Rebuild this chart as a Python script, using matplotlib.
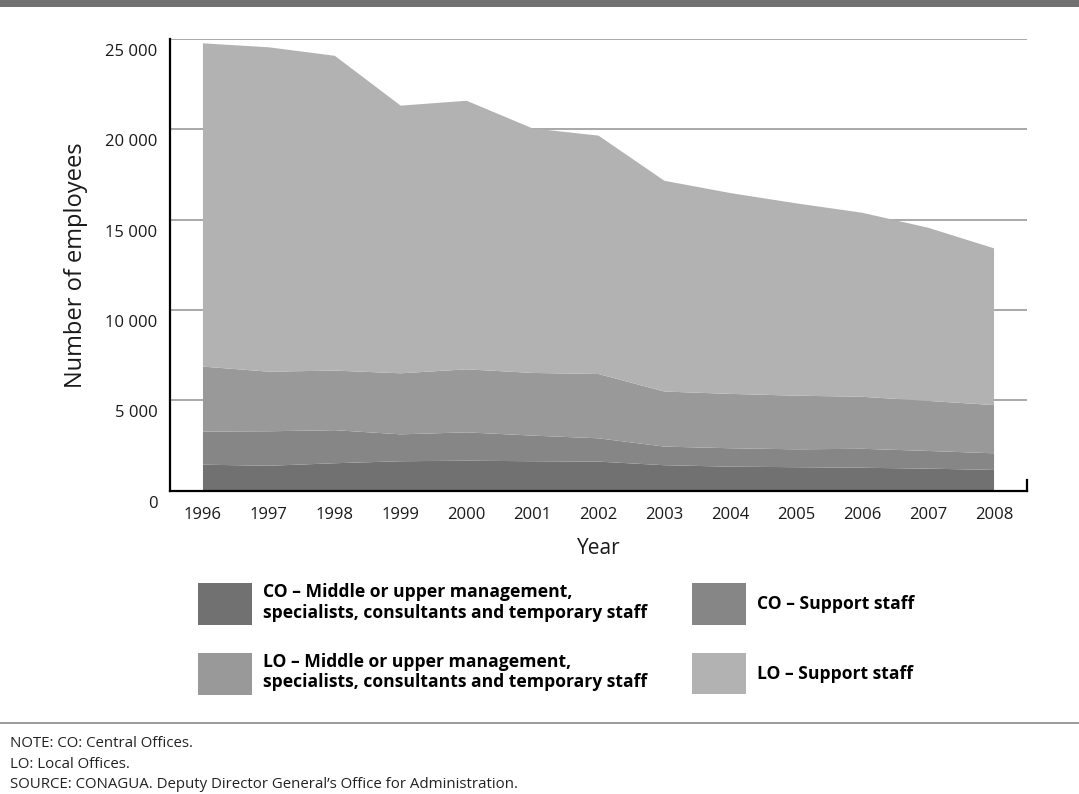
import matplotlib
matplotlib.use("Agg")
import matplotlib.pyplot as plt
import matplotlib.transforms as mtransforms
from matplotlib.lines import Line2D
from matplotlib.patches import Rectangle

plt.rcParams['font.family'] = ['Open Sans', 'DejaVu Sans']

years = [1996, 1997, 1998, 1999, 2000, 2001, 2002, 2003, 2004, 2005, 2006, 2007, 2008]
co_mid = [1430, 1370, 1510, 1620, 1650, 1620, 1600, 1400, 1320, 1290, 1260, 1210, 1140]
co_sup = [1830, 1910, 1830, 1490, 1570, 1420, 1290, 1030, 1020, 990, 1050, 980, 920]
lo_mid = [3600, 3300, 3300, 3380, 3490, 3470, 3560, 3050, 3010, 2970, 2880, 2770, 2670]
lo_sup = [17900, 17960, 17430, 14820, 14870, 13540, 13200, 11670, 11120, 10650, 10190, 9590, 8680]

labels = ["CO \u2013 Middle or upper management,\nspecialists, consultants and temporary staff",
          "CO \u2013 Support staff",
          "LO \u2013 Middle or upper management,\nspecialists, consultants and temporary staff",
          "LO \u2013 Support staff"]
colors = ["#717171", "#868686", "#999999", "#b2b2b2"]

yticks = [0, 5000, 10000, 15000, 20000, 25000]
ytick_labels = ["0", "5 000", "10 000", "15 000", "20 000", "25 000"]

fig = plt.figure(figsize=(10.79, 7.94), dpi=100)
ax = fig.add_axes([170/1079, 1 - 490.5/794, 857/1079, 451.5/794])

polys = ax.stackplot(years, co_mid, co_sup, lo_mid, lo_sup, colors=colors,
                     labels=labels, linewidth=0, zorder=2)

ax.set_xlim(1995.5, 2008.5)
ax.set_ylim(0, 25000)
ax.set_xticks(years)
ax.set_xticklabels([str(y) for y in years])
ax.set_yticks(yticks)
ax.set_yticklabels(ytick_labels)
ax.tick_params(axis='both', length=0, labelsize=12, colors='#1a1a1a')
ax.tick_params(axis='x', pad=12)
ax.tick_params(axis='y', pad=9)

ax.yaxis.grid(True, color='#9a9a9a', linewidth=1.2, zorder=0)
ax.set_axisbelow(True)

for s in ['top', 'right']:
    ax.spines[s].set_visible(False)
for s in ['left', 'bottom']:
    ax.spines[s].set_color('black')
    ax.spines[s].set_linewidth(1.6)
    ax.spines[s].set_zorder(3)

# small end tick on the right of the x axis
ax.plot([1, 1], [0, 0.024], transform=ax.transAxes, color='black',
        linewidth=1.6, clip_on=False, zorder=3, solid_capstyle='projecting')

offset = mtransforms.ScaledTranslation(0, -0.11, fig.dpi_scale_trans)
for lab in ax.get_yticklabels():
    lab.set_transform(lab.get_transform() + offset)

ax.set_xlabel("Year", fontsize=15, color='#1a1a1a', labelpad=11)
ax.set_ylabel("Number of employees", fontsize=17, color='#1a1a1a', labelpad=12)

# legend
order = [0, 2, 1, 3]
leg = fig.legend([polys[i] for i in order], [labels[i] for i in order],
                 loc='upper left', bbox_to_anchor=(198/1079, 1 - 583/794),
                 ncol=2, frameon=False, borderpad=0, borderaxespad=0,
                 handlelength=3.09, handleheight=3.3, handletextpad=0.6,
                 columnspacing=2.6, labelspacing=1.56,
                 prop={'family': ['Open Sans', 'DejaVu Sans'], 'weight': 'bold', 'size': 12.6})

# top banner and footer separator
fig.add_artist(Rectangle((0, 1 - 7/794), 1, 7/794, transform=fig.transFigure,
                         facecolor='#717171', edgecolor='none'))
fig.add_artist(Line2D([0, 1], [1 - 723/794, 1 - 723/794], transform=fig.transFigure,
                      color='#8a8a8a', linewidth=1.2))

foot = ["NOTE: CO: Central Offices.",
        "LO: Local Offices.",
        "SOURCE: CONAGUA. Deputy Director General\u2019s Office for Administration."]
for i, t in enumerate(foot):
    fig.text(10/1079, 1 - (743.5 + i*20.5)/794, t, fontsize=10.8, color='#222222',
             va='center', ha='left')

fig.savefig("out.png", dpi=100)
